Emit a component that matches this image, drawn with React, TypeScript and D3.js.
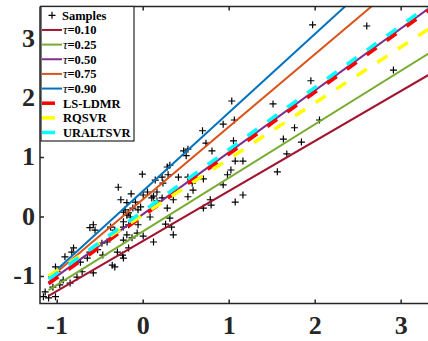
import React from "react";
import * as d3 from "d3";

const sampleX = [1.97, 2.60, 1.95, 2.91, 1.76, 2.05, 1.63, 1.84, 1.67, 1.56, 1.03, 1.51, 0.93, 1.06, 0.69, 1.05, 0.73, 0.80, 0.47, 0.52, 0.50, 0.31, 0.29, 0.22, 0.14, 0.23, 0.41, 0.52, 0.57, 0.58, 0.70, 0.52, 0.16, 0.10, 0.22, 0.35, 0.08, 0.28, 0.31, 0.26, 0.33, 0.35, 0.12, 0.70, 0.78, 0.79, 0.93, 0.98, 1.02, 1.07, 1.16, 1.07, 1.16, -0.01, 0.28, -0.29, -0.14, 0.00, -0.09, -0.03, 0.05, 0.12, 0.16, -0.19, -0.23, -0.17, -0.12, -0.06, -0.58, -0.56, -0.62, -0.23, -0.17, -0.06, -0.19, -0.13, -0.07, 0.00, -0.23, -0.24, -0.17, -0.23, -0.81, -0.83, -0.91, -1.02, -1.00, -1.14, -1.16, -1.10, -1.02, -0.30, -0.36, -0.33, -0.58, -0.73, -0.65, -0.62, -0.53, -0.48, -0.42, -0.47, -0.71, -0.77, -0.85, -0.93, -0.97, -1.05, -0.38, -0.33, -0.23, -0.15, -0.26, -0.21, -0.19];
const sampleY = [3.23, 3.21, 2.29, 2.47, 1.50, 1.63, 1.31, 1.26, 1.06, 0.76, 1.95, 1.90, 1.56, 1.63, 1.45, 1.28, 1.24, 1.11, 1.11, 1.14, 1.03, 0.87, 0.71, 0.67, 0.62, 0.57, 0.67, 0.67, 0.57, 0.45, 0.64, 0.34, 0.42, 0.32, 0.32, 0.29, 0.00, 0.15, -0.02, -0.12, -0.17, -0.30, -0.42, 0.15, 0.29, 0.20, 0.54, 0.71, 0.79, 0.94, 0.94, 0.25, 0.37, 0.72, 0.84, 0.50, 0.39, 0.37, 0.25, 0.17, 0.42, 0.35, 0.27, 0.24, 0.08, 0.07, 0.15, 0.12, -0.13, -0.22, -0.18, -0.17, -0.13, -0.13, -0.30, -0.35, -0.27, -0.32, -0.39, -0.64, -0.52, -0.69, -0.52, -0.59, -0.67, -0.84, -0.92, -1.26, -1.34, -1.36, -1.34, -0.59, -0.81, -0.84, -0.94, -0.76, -0.69, -0.59, -0.55, -0.44, -0.42, -0.64, -0.92, -1.01, -1.11, -1.06, -1.14, -1.18, -0.17, -0.22, -0.08, 0.00, 0.29, 0.12, 0.03];

const lineNames = ["τ=0.10", "τ=0.25", "τ=0.50", "τ=0.75", "τ=0.90", "LS-LDMR", "RQSVR", "URALTSVR"];
const lineIntercepts = [-0.40, -0.24, 0.05, 0.30, 0.44, 0.02, 0.04, 0.10];
const lineSlopes = [0.84, 0.90, 1.04, 1.22, 1.32, 1.04, 0.94, 1.04];
const lineColors = ["#A2142F", "#77AC30", "#7E2F8E", "#D95319", "#0072BD", "#FF0000", "#FFFF00", "#00FFFF"];
const lineDashed = [false, false, false, false, false, true, true, true];
const lineXStart = -1.1;
const lineXEnd = 3.6;

const xTicks = [-1, 0, 1, 2, 3];
const yTicks = [-1, 0, 1, 2, 3];

export default function App() {
  const W = 428, H = 341;
  const left = 40, right = 431, top = 6.5, bottom = 303.5;
  const x = d3.scaleLinear().domain([-1.2, 3.347]).range([left, right]);
  const y = d3.scaleLinear().domain([-1.454, 3.538]).range([bottom, top]);
  const axisColor = "#262626";
  const lineGen = d3.line<[number, number]>().x(d => x(d[0])).y(d => y(d[1]));
  const font = "'Liberation Serif', 'Times New Roman', serif";

  const legendX = 41, legendY = 6.5, legendW = 93, legendH = 134.5;
  const legendRow0 = 15.3, legendStep = 14.65;

  return (
    <svg width={W} height={H} style={{ position: "absolute", left: 0, top: 0, background: "#fff" }} fontFamily={font}>
      <defs>
        <clipPath id="plotClip">
          <rect x={left} y={top} width={right - left} height={bottom - top} />
        </clipPath>
      </defs>
      <rect x={0} y={0} width={W} height={H} fill="#fff" />
      <g clipPath="url(#plotClip)">
        {sampleX.map((sx, i) => {
          const cx = x(sx), cy = y(sampleY[i]);
          return (
            <path key={i} d={`M${cx - 3.5},${cy}H${cx + 3.5}M${cx},${cy - 3.5}V${cy + 3.5}`} stroke="#000" strokeWidth={1.2} />
          );
        })}
        {lineNames.map((n, i) => {
          const pts: [number, number][] = [lineXStart, lineXEnd].map(v => [v, lineIntercepts[i] + lineSlopes[i] * v] as [number, number]);
          return (
            <path key={n} d={lineGen(pts) || ""} fill="none" stroke={lineColors[i]}
              strokeWidth={lineDashed[i] ? 3.5 : 2}
              strokeDasharray={lineDashed[i] ? "12,12.5" : undefined} />
          );
        })}
      </g>
      {/* axes */}
      <path d={`M${left},${top}H${W}M${left},${top}V${bottom}H${W}`} fill="none" stroke={axisColor} strokeWidth={1.5} />
      {xTicks.map(t => (
        <g key={"xt" + t}>
          <line x1={x(t)} x2={x(t)} y1={bottom} y2={bottom - 4} stroke={axisColor} strokeWidth={1.5} />
          <line x1={x(t)} x2={x(t)} y1={top} y2={top + 4} stroke={axisColor} strokeWidth={1.5} />
          <text x={x(t)} y={334} textAnchor="middle" fontSize={26} fontWeight="bold" fill="#262626">{String(t)}</text>
        </g>
      ))}
      {yTicks.map(t => (
        <g key={"yt" + t}>
          <line x1={left} x2={left + 4} y1={y(t)} y2={y(t)} stroke={axisColor} strokeWidth={1.5} />
          <text x={35} y={y(t) + 8} textAnchor="end" fontSize={26} fontWeight="bold" fill="#262626">{String(t)}</text>
        </g>
      ))}
      {/* legend */}
      <rect x={legendX} y={legendY} width={legendW} height={legendH} fill="#fff" stroke="#262626" strokeWidth={1.2} />
      <path d={`M${52 - 3.5},${legendRow0}H${52 + 3.5}M52,${legendRow0 - 3.5}V${legendRow0 + 3.5}`} stroke="#000" strokeWidth={1.2} />
      <text x={62} y={legendRow0 + 4.5} fontSize={12.5} fontWeight="bold" fill="#000">Samples</text>
      {lineNames.map((n, i) => {
        const ly = legendRow0 + legendStep * (i + 1);
        const isTau = n.startsWith("τ");
        return (
          <g key={"lg" + n}>
            <line x1={42} x2={lineDashed[i] ? 55 : 62} y1={ly} y2={ly} stroke={lineColors[i]} strokeWidth={lineDashed[i] ? 3.5 : 2} />
            <text x={63} y={ly + 4.5} fontSize={12.5} fontWeight="bold" fill="#000">
              {isTau ? (
                <>
                  <tspan fontStyle="italic" fontWeight="normal">τ</tspan>
                  <tspan>{n.slice(1)}</tspan>
                </>
              ) : n}
            </text>
          </g>
        );
      })}
    </svg>
  );
}
